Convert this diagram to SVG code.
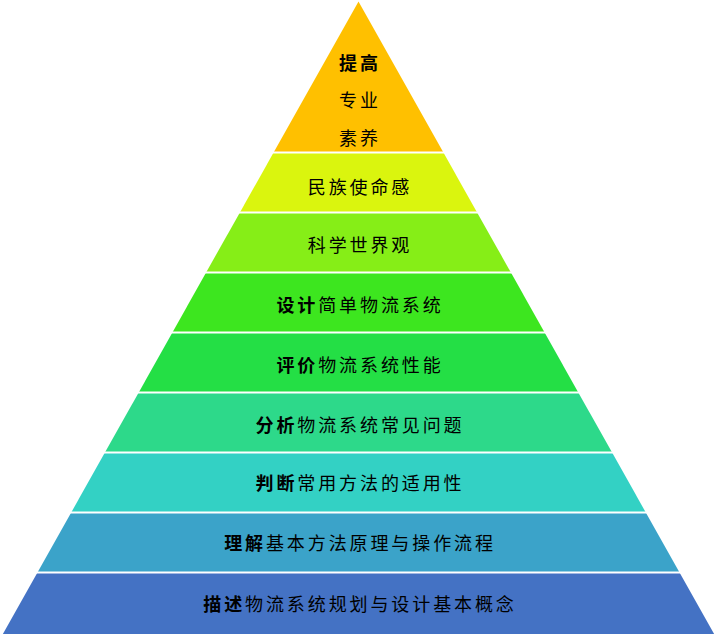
<svg xmlns="http://www.w3.org/2000/svg" width="718" height="634" viewBox="0 0 718 634">
<style>
.t{font-family:"Noto Sans CJK SC","Noto Sans",sans-serif;font-size:18px;letter-spacing:2.9px;fill:#000;text-anchor:middle}
.b{font-weight:bold}
.sep{stroke:#fff;stroke-width:1.8}
</style>
<rect width="718" height="634" fill="#fff"/>
<g id="layer1"><polygon points="358.5,1.5 443.4,152.5 273.6,152.5" fill="#FFC000"/>
<text class="t" x="360" y="69.8"><tspan class="b">提高</tspan></text>
<text class="t" x="360" y="106.8">专业</text>
<text class="t" x="360" y="144.8">素养</text></g>
<g id="layer2"><polygon points="273.6,152.5 443.4,152.5 477.1,212.5 239.9,212.5" fill="#DAF50E"/>
<text class="t" x="360" y="193.8">民族使命感</text></g>
<g id="layer3"><polygon points="239.9,212.5 477.1,212.5 510.9,272.5 206.1,272.5" fill="#86EE17"/>
<text class="t" x="360" y="252.3">科学世界观</text></g>
<g id="layer4"><polygon points="206.1,272.5 510.9,272.5 544.6,332.5 172.4,332.5" fill="#3DE61F"/>
<text class="t" x="360" y="311.8"><tspan class="b">设计</tspan>简单物流系统</text></g>
<g id="layer5"><polygon points="172.4,332.5 544.6,332.5 578.3,392.5 138.7,392.5" fill="#24DF45"/>
<text class="t" x="360" y="371.8"><tspan class="b">评价</tspan>物流系统性能</text></g>
<g id="layer6"><polygon points="138.7,392.5 578.3,392.5 612.1,452.5 104.9,452.5" fill="#2DD98A"/>
<text class="t" x="360" y="431.8"><tspan class="b">分析</tspan>物流系统常见问题</text></g>
<g id="layer7"><polygon points="104.9,452.5 612.1,452.5 645.8,512.5 71.2,512.5" fill="#33D1C4"/>
<text class="t" x="360" y="490.3"><tspan class="b">判断</tspan>常用方法的适用性</text></g>
<g id="layer8"><polygon points="71.2,512.5 645.8,512.5 679.5,572.5 37.5,572.5" fill="#3BA3C9"/>
<text class="t" x="360" y="549.8"><tspan class="b">理解</tspan>基本方法原理与操作流程</text></g>
<g id="layer9"><polygon points="37.5,572.5 679.5,572.5 714.1,634 2.9,634" fill="#4472C4"/>
<text class="t" x="360" y="610.8"><tspan class="b">描述</tspan>物流系统规划与设计基本概念</text></g>
<g id="separators">
<line class="sep" x1="0" y1="152.5" x2="718" y2="152.5"/>
<line class="sep" x1="0" y1="212.5" x2="718" y2="212.5"/>
<line class="sep" x1="0" y1="272.5" x2="718" y2="272.5"/>
<line class="sep" x1="0" y1="332.5" x2="718" y2="332.5"/>
<line class="sep" x1="0" y1="392.5" x2="718" y2="392.5"/>
<line class="sep" x1="0" y1="452.5" x2="718" y2="452.5"/>
<line class="sep" x1="0" y1="512.5" x2="718" y2="512.5"/>
<line class="sep" x1="0" y1="572.5" x2="718" y2="572.5"/>
</g>
</svg>
